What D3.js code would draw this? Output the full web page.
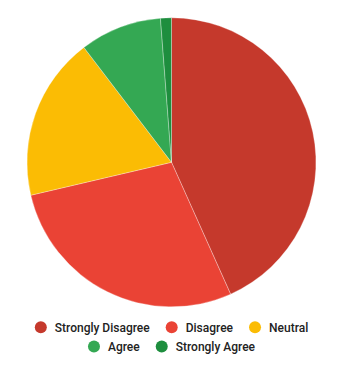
<!DOCTYPE html>
<html><head><meta charset="utf-8">
<script src="https://cdn.jsdelivr.net/npm/d3@7"></script>
<style>html,body{margin:0;padding:0;background:#fff;}svg{display:block;}</style>
</head><body>
<script>
const categories = ["Strongly Disagree","Disagree","Neutral","Agree","Strongly Agree"];
const values = [71, 46, 30, 15, 2];
const colors = ["#c5392c","#ea4335","#fbbc04","#34a853","#1e8e3e"];

const W = 343, H = 371;
const cx = 171.5, cy = 162.3, R = 144.5;
const svg = d3.select("body").append("svg").attr("width", W).attr("height", H);
const color = d3.scaleOrdinal().domain(categories).range(colors);
const pie = d3.pie().sort(null).value(d => d.v);
const arc = d3.arc().innerRadius(0).outerRadius(R);
const data = categories.map((c,i)=>({c, v: values[i]}));
svg.append("g").attr("transform", `translate(${cx},${cy})`)
  .selectAll("path").data(pie(data)).join("path")
  .attr("d", arc).attr("fill", d => color(d.data.c))
  .attr("stroke", "#fff").attr("stroke-width", 0.5).attr("stroke-opacity", 0.6);

// legend
const rows = [[0,1,2],[3,4]];
const rowY = [327.3, 346.5];
const font = "500 12px Roboto";
const ctx = document.createElement("canvas").getContext("2d");
ctx.font = font;
const circR = 6, gapText = 8, gapItem = 16;
const lg = svg.append("g");
rows.forEach((row, ri) => {
  const widths = row.map(i => 2*circR + gapText + ctx.measureText(categories[i]).width);
  const total = d3.sum(widths) + gapItem*(row.length-1);
  let x = cx - total/2;
  row.forEach((i, k) => {
    lg.append("circle").attr("cx", x + circR).attr("cy", rowY[ri]).attr("r", circR).attr("fill", color(categories[i]));
    lg.append("text").attr("x", x + 2*circR + gapText).attr("y", rowY[ri]).attr("dy", "0.35em")
      .style("font", font).attr("fill", "#222").text(categories[i]);
    x += widths[k] + gapItem;
  });
});
</script>
</body></html>
